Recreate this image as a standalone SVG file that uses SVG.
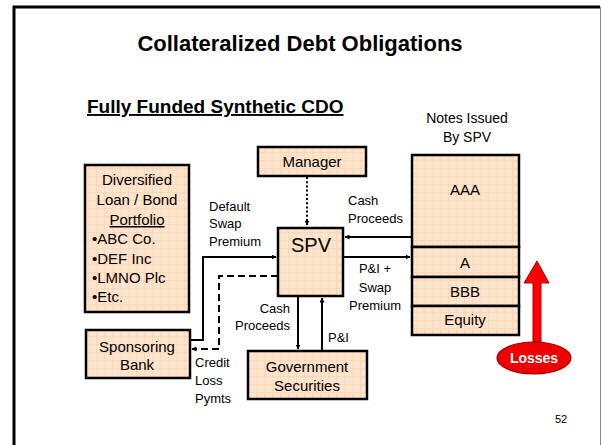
<svg xmlns="http://www.w3.org/2000/svg" width="602" height="445" viewBox="0 0 602 445">
<defs>
<pattern id="grid" width="8" height="8" patternUnits="userSpaceOnUse">
<rect width="8" height="8" fill="#fee4cc"/>
<path d="M0,0.5H8M0.5,0V8" stroke="#fbd0a8" stroke-width="0.6" fill="none"/>
</pattern>
<marker id="ah" viewBox="0 0 10 10" refX="9" refY="5" markerWidth="5" markerHeight="5" orient="auto" markerUnits="userSpaceOnUse">
<path d="M0,0L10,5L0,10Z" fill="#000"/>
</marker>
</defs>
<style>
.box{fill:url(#grid);stroke:#000;stroke-width:2.5}
.t{font-family:"Liberation Sans",Arial,sans-serif;fill:#000}
.n{font-size:15px;text-anchor:middle}
.l{font-size:13px}
.c{fill:none;stroke:#000;stroke-width:2}
</style>
<rect width="602" height="445" fill="#fff"/>
<path d="M14,445V7H600" fill="none" stroke="#000" stroke-width="3"/>
<path d="M600.5,7V445" fill="none" stroke="#888" stroke-width="1"/>
<text class="t" x="300" y="51" font-size="22" font-weight="bold" text-anchor="middle">Collateralized Debt Obligations</text>
<text class="t" x="87" y="113" font-size="19" font-weight="bold" text-decoration="underline">Fully Funded Synthetic CDO</text>
<text class="t" x="467" y="123" font-size="14" text-anchor="middle">Notes Issued</text>
<text class="t" x="467" y="142" font-size="14" text-anchor="middle">By SPV</text>

<g id="connectors">
<path class="c" d="M307,177V225" stroke-dasharray="2,2.2" marker-end="url(#ah)"/>
<path class="c" d="M190,340H203V257H276" marker-end="url(#ah)"/>
<path class="c" d="M278,276H219V349H192" stroke-dasharray="7,4" marker-end="url(#ah)"/>
<path class="c" d="M412,237H345" marker-end="url(#ah)"/>
<path class="c" d="M343,257H410" marker-end="url(#ah)"/>
<path class="c" d="M298,296V349" marker-end="url(#ah)"/>
<path class="c" d="M322,351V298" marker-end="url(#ah)"/>
</g>
<g id="connector-labels">
<text class="t l" x="209" y="211">Default</text>
<text class="t l" x="209" y="228">Swap</text>
<text class="t l" x="209" y="246">Premium</text>
<text class="t l" x="348" y="205">Cash</text>
<text class="t l" x="348" y="223">Proceeds</text>
<text class="t l" x="375" y="273" text-anchor="middle">P&amp;I +</text>
<text class="t l" x="375" y="292" text-anchor="middle">Swap</text>
<text class="t l" x="375" y="310" text-anchor="middle">Premium</text>
<text class="t l" x="290" y="313" text-anchor="end">Cash</text>
<text class="t l" x="290" y="330" text-anchor="end">Proceeds</text>
<text class="t l" x="328" y="342">P&amp;I</text>
<text class="t l" x="195" y="367">Credit</text>
<text class="t l" x="195" y="385">Loss</text>
<text class="t l" x="195" y="403">Pymts</text>
</g>

<g id="portfolio">
<rect class="box" x="85" y="165" width="104" height="147"/>
<text class="t n" x="137" y="185">Diversified</text>
<text class="t n" x="137" y="205">Loan / Bond</text>
<text class="t n" x="137" y="225" text-decoration="underline">Portfolio</text>
<text class="t" x="92" y="244" font-size="15">•ABC Co.</text>
<text class="t" x="92" y="264" font-size="15">•DEF Inc</text>
<text class="t" x="92" y="283" font-size="15">•LMNO Plc</text>
<text class="t" x="92" y="302" font-size="15">•Etc.</text>
</g>
<g id="manager">
<rect class="box" x="258" y="147" width="108" height="29"/>
<text class="t n" x="312" y="167">Manager</text>
</g>
<g id="spv">
<rect class="box" x="278" y="228" width="65" height="68"/>
<text class="t" x="311" y="252" font-size="20" text-anchor="middle">SPV</text>
</g>
<g id="sponsoring-bank">
<rect class="box" x="86" y="330" width="104" height="48"/>
<text class="t n" x="137" y="352">Sponsoring</text>
<text class="t n" x="137" y="370">Bank</text>
</g>
<g id="government-securities">
<rect class="box" x="248" y="351" width="119" height="48"/>
<text class="t n" x="307" y="372">Government</text>
<text class="t n" x="307" y="391">Securities</text>
</g>
<g id="tranches">
<rect class="box" x="412" y="155" width="107" height="92"/>
<text class="t n" x="465" y="195">AAA</text>
<rect class="box" x="412" y="247" width="107" height="30"/>
<text class="t n" x="465" y="268">A</text>
<rect class="box" x="412" y="277" width="107" height="29"/>
<text class="t n" x="465" y="297">BBB</text>
<rect class="box" x="412" y="306" width="107" height="29"/>
<text class="t n" x="465" y="325">Equity</text>
</g>
<g id="losses">
<path d="M533,342V283H524L537,261L549,283H541V342Z" fill="#f00" stroke="#a00" stroke-width="1"/>
<ellipse cx="534" cy="358" rx="37" ry="16" fill="#e00" stroke="#900" stroke-width="1.2"/>
<text x="534" y="363" font-family="'Liberation Sans',Arial,sans-serif" font-size="14" font-weight="bold" fill="#fff" text-anchor="middle">Losses</text>
</g>
<text class="t" x="555" y="423" font-size="11">52</text>
</svg>
